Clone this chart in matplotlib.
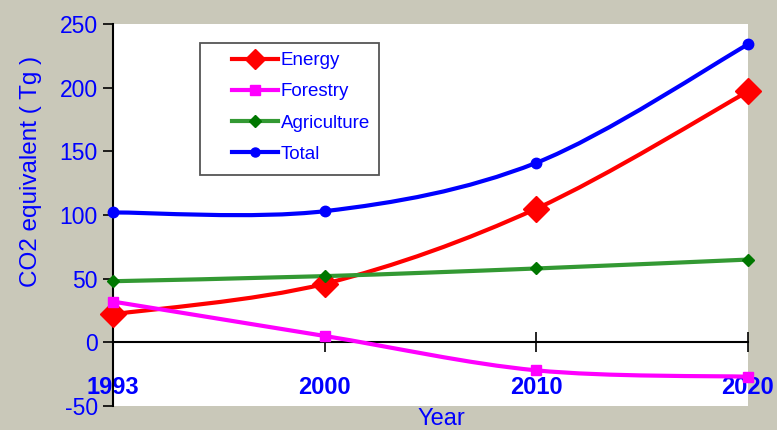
# CO2 equivalent emissions by sector, 1993-2020
import matplotlib.pyplot as plt
from matplotlib.path import Path
from matplotlib.patches import PathPatch, Rectangle
from matplotlib.lines import Line2D

years = ["1993", "2000", "2010", "2020"]
energy = [22, 46, 105, 197]
forestry = [32, 5, -22, -27]
agriculture = [48, 52, 58, 65]
total = [102, 103, 141, 234]

plt.rcParams['font.family'] = ['Liberation Sans', 'DejaVu Sans']
plt.rcParams['axes.unicode_minus'] = False
BLUE = '#0000ff'
W, H = 777, 430


def smooth_path(xs, ys):
    """Excel style smoothed line: bezier segments through every point"""
    pts = list(zip(xs, ys))
    n = len(pts)
    verts = [pts[0]]
    codes = [Path.MOVETO]
    for i in range(n - 1):
        p0 = pts[max(i - 1, 0)]
        p1 = pts[i]
        p2 = pts[i + 1]
        p3 = pts[min(i + 2, n - 1)]
        c1 = (p1[0] + (p2[0] - p0[0]) / 6, p1[1] + (p2[1] - p0[1]) / 6)
        c2 = (p2[0] - (p3[0] - p1[0]) / 6, p2[1] - (p3[1] - p1[1]) / 6)
        verts += [c1, c2, p2]
        codes += [Path.CURVE4] * 3
    return Path(verts, codes)


fig = plt.figure(figsize=(W / 100, H / 100), dpi=100, facecolor='#c9c8b9')
ax = fig.add_axes([113 / W, 1 - 406 / H, 635 / W, 382 / H])
ax.set_facecolor('white')

# axis frame first, the spine move resets the ticks
for s in ['top', 'right']:
    ax.spines[s].set_visible(False)
ax.spines['bottom'].set_position(('data', 0))
ax.spines['left'].set_linewidth(1.5)
ax.spines['bottom'].set_linewidth(1.5)

series = [
    ("Energy", energy, '#ff0000', '#ff0000', 'D', 13, 10),
    ("Forestry", forestry, '#ff00ff', '#ff00ff', 's', 7.5, 7),
    ("Agriculture", agriculture, '#339933', '#007700', 'D', 6.5, 6),
    ("Total", total, '#0000ff', '#0000ff', 'o', 7.5, 6.5),
]
xs = list(range(len(years)))
handles = []
for name, vals, col, mcol, mk, ms, lms in series:
    ax.add_patch(PathPatch(smooth_path(xs, vals), facecolor='none',
                           edgecolor=col, lw=3, zorder=3, clip_on=False))
    ax.plot(xs, vals, linestyle='none', marker=mk, ms=ms, color=mcol,
            zorder=4, clip_on=False)
    handles.append(Line2D([], [], color=col, lw=3, marker=mk, ms=lms,
                          mfc=mcol, mec=mcol, label=name))

ax.set_xlim(0, 3)
ax.set_ylim(-50, 250)
ax.set_yticks(range(-50, 251, 50))
ax.set_xticks(xs)
ax.set_xticklabels(years)
ax.tick_params(axis='y', direction='out', length=7, width=1.2,
               labelsize=16.5, labelcolor=BLUE, pad=4)
ax.tick_params(axis='x', direction='inout', length=14, width=1.2, pad=17,
               labelsize=17, labelcolor=BLUE)
for t in ax.get_xticklabels():
    t.set_fontweight('bold')

ax.set_ylabel("CO2 equivalent ( Tg )", fontsize=17.5, color=BLUE)
ax.yaxis.set_label_coords((42 - 113) / 635, (406 - 171) / 382)
ax.set_xlabel("Year", fontsize=17, color=BLUE)
ax.xaxis.set_label_coords((441 - 113) / 635, -0.006)
ax.xaxis.label.set_va('top')

# legend box drawn by hand so the inner margins match
ax.add_patch(Rectangle(((200 - 113) / 635, (406 - 175) / 382), 179 / 635, 132 / 382,
                       transform=ax.transAxes, facecolor='white',
                       edgecolor='#555555', lw=1.3, zorder=5))
leg = ax.legend(handles=handles, loc='upper left',
                bbox_to_anchor=((232 - 113) / 635, (406 - 52) / 382),
                fontsize=13.5, labelcolor=BLUE, numpoints=1, handlelength=2.45,
                handletextpad=0.15, borderpad=0, borderaxespad=0,
                labelspacing=0.75, frameon=False)
leg.set_zorder(6)

fig.savefig("out.png", dpi=100, facecolor=fig.get_facecolor())
